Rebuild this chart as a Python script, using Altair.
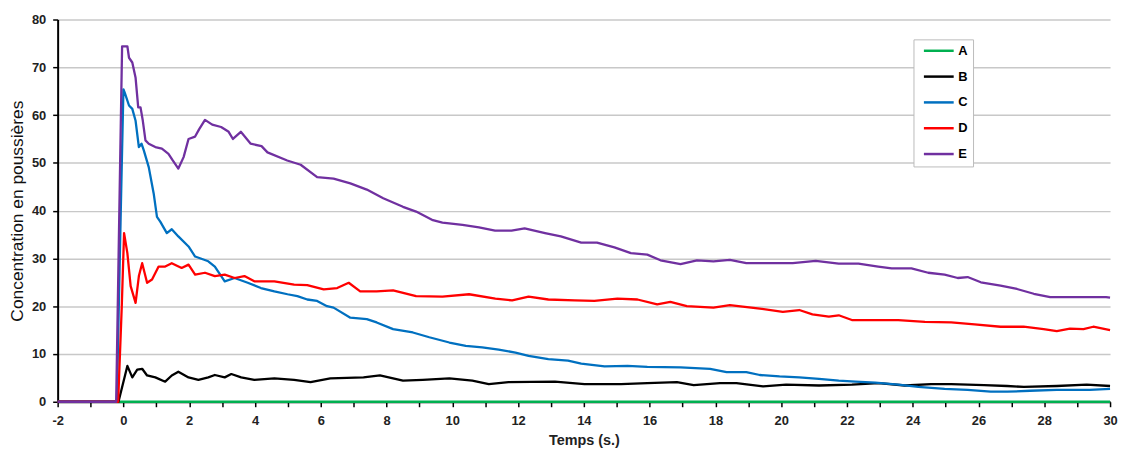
import altair as alt
import pandas as pd

series_names = ["A", "B", "C", "D", "E"]
series_colors = ["#00B050", "#000000", "#0070C0", "#FF0000", "#7030A0"]

t_A = [-2, 30]
v_A = [0, 0]

t_B = [-2, -0.15, 0.12, 0.27, 0.42, 0.57, 0.72, 0.97, 1.27, 1.47, 1.67, 1.98, 2.28, 2.58, 2.78,
       3.08, 3.28, 3.58, 3.98, 4.59, 5.19, 5.69, 6.29, 7.3, 7.8, 8.5, 9.1, 9.91, 10.61, 11.11,
       11.71, 13.12, 14.02, 15.13, 15.93, 16.83, 17.34, 18.14, 18.64, 19.45, 20.15, 21.15, 22.15,
       22.96, 23.76, 24.56, 25.17, 26.17, 26.87, 27.38, 28.38, 29.29, 30]
v_B = [0, 0, 7.5, 5.1, 6.7, 6.9, 5.5, 5.1, 4.2, 5.5, 6.3, 5.1, 4.6, 5.1, 5.6,
       5.1, 5.8, 5.1, 4.6, 4.9, 4.6, 4.1, 4.9, 5.1, 5.5, 4.4, 4.6, 4.9, 4.4, 3.7,
       4.1, 4.2, 3.7, 3.7, 3.9, 4.1, 3.5, 3.9, 3.9, 3.2, 3.6, 3.4, 3.6,
       3.9, 3.4, 3.7, 3.7, 3.5, 3.3, 3.1, 3.3, 3.6, 3.3]

t_C = [-2, -0.2, -0.08, 0.0, 0.05, 0.17, 0.27, 0.37, 0.47, 0.55, 0.62, 0.77, 0.92, 1.02, 1.12,
       1.32, 1.47, 1.67, 1.98, 2.18, 2.58, 2.78, 3.08, 3.38, 3.78, 4.18, 4.59, 4.99, 5.29, 5.59,
       5.89, 6.19, 6.39, 6.9, 7.4, 7.7, 8.2, 8.8, 9.3, 9.91, 10.41, 10.91, 11.41, 11.92, 12.32,
       12.92, 13.52, 13.92, 14.63, 15.33, 15.93, 16.94, 17.84, 18.34, 18.94, 19.35, 19.95, 20.55,
       21.15, 21.75, 22.26, 22.86, 23.56, 24.17, 24.97, 25.67, 26.37, 26.87, 27.57, 28.38, 29.38, 30]
v_C = [0, 0, 40, 65.4, 64.5, 62, 61.3, 58.8, 53.3, 54, 52.6, 49.1, 43.6, 38.7, 37.7,
       35.3, 36.1, 34.6, 32.5, 30.4, 29.4, 28.3, 25.2, 25.9, 24.9, 23.8, 23.1, 22.5, 22.1, 21.4,
       21.1, 20.0, 19.7, 17.6, 17.3, 16.6, 15.2, 14.5, 13.5, 12.4, 11.7, 11.4, 10.9, 10.3, 9.6,
       8.9, 8.6, 8.0, 7.4, 7.5, 7.3, 7.2, 6.9, 6.2, 6.2, 5.6, 5.3, 5.1,
       4.8, 4.4, 4.2, 4.0, 3.6, 3.1, 2.7, 2.5, 2.1, 2.1, 2.3, 2.5, 2.5, 2.7]

t_D = [-2, -0.16, -0.05, 0.02, 0.12, 0.22, 0.37, 0.47, 0.57, 0.72, 0.87, 1.07, 1.27, 1.47, 1.77,
       1.98, 2.18, 2.48, 2.78, 3.08, 3.38, 3.68, 3.98, 4.59, 5.19, 5.59, 6.09, 6.5, 6.85, 7.2,
       7.7, 8.2, 8.9, 9.7, 10.51, 11.31, 11.82, 12.32, 12.92, 13.72, 14.32, 15.02, 15.63, 16.23,
       16.63, 17.13, 17.94, 18.44, 19.35, 20.05, 20.55, 20.95, 21.45, 21.75, 22.15, 22.86, 23.56,
       24.37, 25.17, 25.88, 26.67, 27.37, 27.98, 28.38, 28.78, 29.19, 29.49, 30]
v_D = [0, 0, 20, 35.3, 31.1, 24.2, 20.7, 26.3, 29.0, 24.9, 25.6, 28.3, 28.3, 29.0, 28.0,
       28.7, 26.6, 27.0, 26.3, 26.6, 25.9, 26.3, 25.2, 25.2, 24.5, 24.4, 23.5, 23.8, 24.9, 23.1,
       23.1, 23.3, 22.1, 22.0, 22.5, 21.6, 21.2, 22.0, 21.4, 21.2, 21.1, 21.6, 21.4, 20.4,
       20.9, 20.0, 19.7, 20.2, 19.5, 18.8, 19.2, 18.3, 17.8, 18.1, 17.1, 17.1, 17.1,
       16.7, 16.6, 16.2, 15.7, 15.7, 15.2, 14.8, 15.3, 15.2, 15.7, 15.0]

t_E = [-2, -0.22, -0.1, -0.04, 0.12, 0.17, 0.27, 0.37, 0.45, 0.52, 0.59, 0.67, 0.77, 0.97, 1.17,
       1.37, 1.5, 1.67, 1.83, 1.98, 2.18, 2.3, 2.48, 2.7, 2.97, 3.2, 3.33, 3.57, 3.87, 4.2, 4.38,
       4.98, 5.39, 5.89, 6.39, 6.9, 7.4, 7.9, 8.5, 8.9, 9.41, 9.7, 10.31, 10.81, 11.3, 11.8, 12.2,
       12.82, 13.3, 13.92, 14.4, 14.93, 15.43, 15.93, 16.33, 16.94, 17.44, 17.94, 18.44, 18.94,
       20.35, 21.05, 21.75, 22.35, 22.95, 23.36, 23.96, 24.47, 24.97, 25.37, 25.67, 26.07, 26.67,
       27.17, 27.68, 28.18, 28.88, 29.88, 30]
v_E = [0, 0, 50, 74.4, 74.4, 72, 71, 67.8, 61.6, 61.6, 58.8, 54.7, 54, 53.3, 53,
       51.9, 50.5, 48.8, 51.2, 55, 55.5, 57, 59, 58, 57.5, 56.5, 55, 56.5, 54, 53.5, 52.2,
       50.5, 49.6, 47.0, 46.7, 45.7, 44.4, 42.6, 40.8, 39.8, 38.0, 37.5, 37.0, 36.5, 35.8, 35.8, 36.3,
       35.3, 34.6, 33.3, 33.3, 32.3, 31.1, 30.8, 29.6, 28.8, 29.6, 29.4, 29.7, 29.0,
       29.0, 29.5, 28.9, 28.9, 28.3, 27.9, 27.9, 27.0, 26.6, 25.9, 26.1, 25.0, 24.3,
       23.6, 22.6, 21.9, 21.9, 21.9, 21.8]

x_ticks = list(range(-2, 31))
y_ticks = list(range(0, 81, 10))

frames = []
for name, t, v in zip(series_names, [t_A, t_B, t_C, t_D, t_E], [v_A, v_B, v_C, v_D, v_E]):
    frames.append(pd.DataFrame({"t": t, "v": v, "s": name}))
df = pd.concat(frames, ignore_index=True)

FONT = "Liberation Sans"

chart = alt.Chart(df).mark_line(strokeWidth=2.3, strokeJoin="round").encode(
    x=alt.X("t:Q",
            scale=alt.Scale(domain=[-2, 30], nice=False, zero=False),
            axis=alt.Axis(values=x_ticks,
                          labelExpr="datum.value % 2 == 0 ? toString(datum.value) : ''",
                          title="Temps (s.)", grid=False,
                          labelFont=FONT, labelFontSize=13, labelFontWeight="bold",
                          labelColor="#222222", labelPadding=8,
                          titleFont=FONT, titleFontSize=14.5, titleFontWeight="bold",
                          titleColor="#222222", titlePadding=6,
                          domainColor="#000000", domainWidth=2,
                          tickColor="#000000", tickWidth=1.5, tickSize=5,
                          labelFlush=False, labelOverlap=False)),
    y=alt.Y("v:Q",
            scale=alt.Scale(domain=[0, 80], nice=False),
            axis=alt.Axis(values=y_ticks, title="Concentration en poussières", grid=True,
                          gridColor="#c8c8c8", gridWidth=1.5,
                          labelFont=FONT, labelFontSize=13, labelFontWeight="bold",
                          labelColor="#222222", labelPadding=7,
                          titleFont=FONT, titleFontSize=17.5, titleFontWeight="normal",
                          titleColor="#111111", titlePadding=5,
                          domainColor="#000000", domainWidth=2,
                          tickColor="#000000", tickWidth=1.5, tickSize=5,
                          labelFlush=False)),
    color=alt.Color("s:N",
                    scale=alt.Scale(domain=series_names, range=series_colors),
                    legend=alt.Legend(title=None, orient="none", legendX=862, legendY=20,
                                      symbolType="M-0.25,0H7.25", symbolSize=64,
                                      symbolStrokeWidth=2.5, labelOffset=27,
                                      labelFont=FONT, labelFontSize=13, labelFontWeight="bold",
                                      labelColor="#000000", rowPadding=12,
                                      padding=5, strokeColor="#bbbbbb", fillColor="#ffffff")),
).properties(
    width=1060, height=385,
    autosize=alt.AutoSizeParams(type="none"),
    padding={"left": 50, "top": 10, "right": 8, "bottom": 47},
).configure_view(stroke=None)

chart.save("out.html", embed_options={"renderer": "svg", "actions": False})
